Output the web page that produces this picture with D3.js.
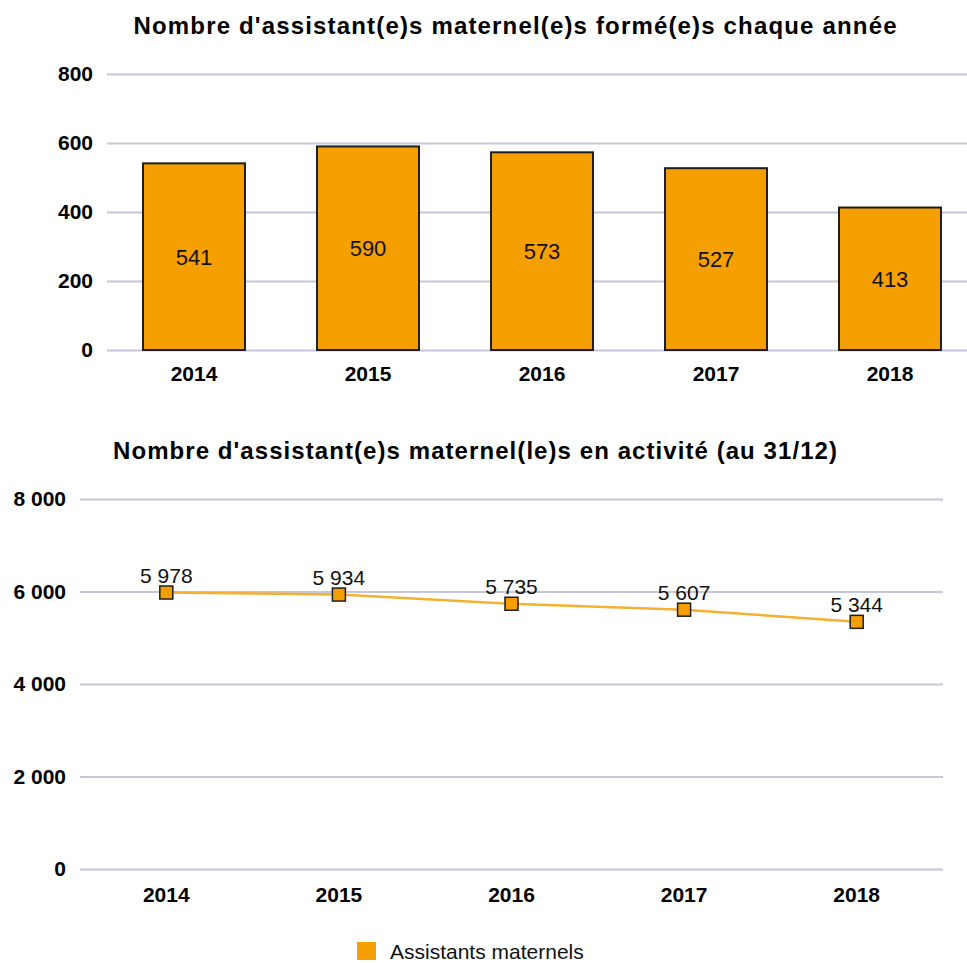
<!DOCTYPE html>
<html>
<head>
<meta charset="utf-8">
<script src="https://cdn.jsdelivr.net/npm/d3@7"></script>
<style>
  body { margin: 0; background: #fff; }
  svg { display: block; font-family: Arial, "Liberation Sans", sans-serif; }
  .grid line { stroke: #c6c6dc; stroke-width: 2; }
  .grid .domain { display: none; }
  .grid text { font-weight: bold; font-size: 21px; fill: #000; }
</style>
</head>
<body>
<svg width="967" height="963"></svg>
<script>
// data
var years = ["2014", "2015", "2016", "2017", "2018"];
var formes = [541, 590, 573, 527, 413];          // formé(e)s chaque année
var enActivite = [5978, 5934, 5735, 5607, 5344]; // en activité au 31/12
var barTicks = [0, 200, 400, 600, 800];
var lineTicks = [0, 2000, 4000, 6000, 8000];
var titleBars = "Nombre d'assistant(e)s maternel(e)s formé(e)s chaque année";
var titleLine = "Nombre d'assistant(e)s maternel(le)s en activité (au 31/12)";
var legendLabel = "Assistants maternels";

var orange = "#f5a000",
    dark = "#1e1e1e";

var fr = d3.formatLocale({decimal: ",", thousands: " ", grouping: [3], currency: ["", " €"]});
var fmt = fr.format(",d");

var svg = d3.select("svg");

// ---------- top: bar chart ----------
var x1 = d3.scaleBand().domain(years).range([107, 977]).paddingInner(0.414).paddingOuter(0.207);
var y1 = d3.scaleLinear().domain([0, 800]).range([350, 74]);

svg.append("text")
    .attr("x", 515).attr("y", 34)
    .attr("text-anchor", "middle")
    .attr("textLength", 763).attr("lengthAdjust", "spacing")
    .style("font-weight", "bold").style("font-size", "24px")
    .text(titleBars);

svg.append("g")
    .attr("class", "grid")
    .attr("transform", "translate(107,0)")
    .call(d3.axisLeft(y1).tickValues(barTicks).tickSize(-(967 - 107)).tickPadding(14).tickFormat(fmt));

svg.selectAll(".bar")
    .data(formes)
    .enter().append("rect")
    .attr("class", "bar")
    .attr("x", function(d, i) { return x1(years[i]); })
    .attr("width", x1.bandwidth())
    .attr("y", function(d) { return y1(d); })
    .attr("height", function(d) { return y1(0) - y1(d); })
    .attr("fill", orange)
    .attr("stroke", dark)
    .attr("stroke-width", 2);

svg.selectAll(".barlabel")
    .data(formes)
    .enter().append("text")
    .attr("class", "barlabel")
    .attr("x", function(d, i) { return x1(years[i]) + x1.bandwidth() / 2; })
    .attr("y", function(d) { return (y1(d) + y1(0)) / 2; })
    .attr("dy", "0.36em")
    .attr("text-anchor", "middle")
    .style("font-size", "22px").style("fill", "#111")
    .text(function(d) { return fmt(d); });

svg.selectAll(".xlab1")
    .data(years)
    .enter().append("text")
    .attr("class", "xlab1")
    .attr("x", function(d) { return x1(d) + x1.bandwidth() / 2; })
    .attr("y", 381)
    .attr("text-anchor", "middle")
    .style("font-weight", "bold").style("font-size", "21px")
    .text(function(d) { return d; });

// ---------- bottom: line chart ----------
var x2 = d3.scaleBand().domain(years).range([80, 943]);
var y2 = d3.scaleLinear().domain([0, 8000]).range([869, 499]);

svg.append("text")
    .attr("x", 475).attr("y", 459)
    .attr("text-anchor", "middle")
    .attr("textLength", 724).attr("lengthAdjust", "spacing")
    .style("font-weight", "bold").style("font-size", "24px")
    .text(titleLine);

svg.append("g")
    .attr("class", "grid")
    .attr("transform", "translate(80,0)")
    .call(d3.axisLeft(y2).tickValues(lineTicks).tickSize(-(943 - 80)).tickPadding(14).tickFormat(fmt));

var line = d3.line()
    .x(function(d, i) { return x2(years[i]) + x2.bandwidth() / 2; })
    .y(function(d) { return y2(d); });

svg.append("path")
    .datum(enActivite)
    .attr("d", line)
    .attr("fill", "none")
    .attr("stroke", "#f6b030")
    .attr("stroke-width", 2.5);

svg.selectAll(".marker")
    .data(enActivite)
    .enter().append("rect")
    .attr("class", "marker")
    .attr("x", function(d, i) { return x2(years[i]) + x2.bandwidth() / 2 - 6.5; })
    .attr("y", function(d) { return y2(d) - 6.5; })
    .attr("width", 13).attr("height", 13)
    .attr("fill", orange)
    .attr("stroke", dark)
    .attr("stroke-width", 1.5);

svg.selectAll(".ptlabel")
    .data(enActivite)
    .enter().append("text")
    .attr("class", "ptlabel")
    .attr("x", function(d, i) { return x2(years[i]) + x2.bandwidth() / 2; })
    .attr("y", function(d) { return y2(d) - 10; })
    .attr("text-anchor", "middle")
    .style("font-size", "21px").style("fill", "#111")
    .text(function(d) { return fmt(d); });

svg.selectAll(".xlab2")
    .data(years)
    .enter().append("text")
    .attr("class", "xlab2")
    .attr("x", function(d) { return x2(d) + x2.bandwidth() / 2; })
    .attr("y", 902)
    .attr("text-anchor", "middle")
    .style("font-weight", "bold").style("font-size", "21px")
    .text(function(d) { return d; });

// legend
var legend = svg.append("g").attr("transform", "translate(357,942)");
legend.append("rect").attr("width", 19).attr("height", 18).attr("fill", orange);
legend.append("text")
    .attr("x", 33).attr("y", 17)
    .style("font-size", "21px").style("fill", "#111")
    .text(legendLabel);
</script>
</body>
</html>
